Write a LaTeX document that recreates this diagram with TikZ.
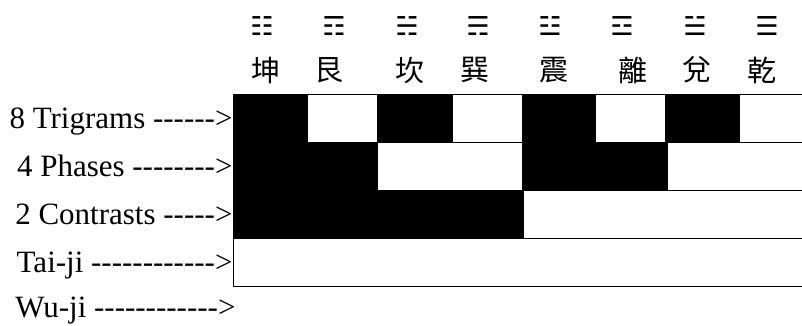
\documentclass[tikz,border=0pt]{standalone}
\usepackage{fontspec}
\setmainfont{Liberation Serif}[Ligatures=TeXOff]
\newfontfamily\cjk{Noto Sans CJK TC}
\newfontfamily\guafont{DejaVu Sans}

\begin{document}
\begin{tikzpicture}[x=1pt,y=-1pt,line width=1pt,
      yin/.style={draw=black,fill=black},
      yang/.style={draw=black,fill=white},
      rowlabel/.style={anchor=base east,inner sep=0pt,font=\fontsize{31}{36}\selectfont},
      gua/.style={inner sep=0pt,font=\guafont\fontsize{26}{26}\selectfont},
      guaname/.style={inner sep=0pt,font=\cjk\fontsize{29}{29}\selectfont}]
  \useasboundingbox (0,0) rectangle (802,325);
  \clip (0,0) rectangle (802,325);

  % trigrams and their names
  \node[gua] (kunsym) at (262,26) {☷};
  \node[gua] (gensym) at (334,26) {☶};
  \node[gua] (kansym) at (407,26) {☵};
  \node[gua] (xunsym) at (478,26) {☴};
  \node[gua] (zhensym) at (550,26) {☳};
  \node[gua] (lisym) at (622,26) {☲};
  \node[gua] (duisym) at (695,26) {☱};
  \node[gua] (qiansym) at (767,26) {☰};
  \node[guaname] (kun) at (266,70) {坤};
  \node[guaname] (gen) at (329,70) {艮};
  \node[guaname] (kan) at (410,70) {坎};
  \node[guaname] (xun) at (475,70) {巽};
  \node[guaname] (zhen) at (554,70) {震};
  \node[guaname] (li) at (633,70) {離};
  \node[guaname] (dui) at (697,70) {兌};
  \node[guaname] (qian) at (762,70) {乾};

  % 8 trigrams
  \draw[yin] (233,94) rectangle (307,142);
  \draw[yang] (307,94) rectangle (377,142);
  \draw[yin] (377,94) rectangle (452,142);
  \draw[yang] (452,94) rectangle (522,142);
  \draw[yin] (522,94) rectangle (595,142);
  \draw[yang] (595,94) rectangle (665,142);
  \draw[yin] (665,94) rectangle (739,142);
  \draw[yang] (739,94) rectangle (806,142);
  % 4 phases
  \draw[yin] (233,142) rectangle (377,190);
  \draw[yang] (377,142) rectangle (522,190);
  \draw[yin] (522,142) rectangle (667,190);
  \draw[yang] (667,142) rectangle (806,190);
  % 2 contrasts
  \draw[yin] (233,190) rectangle (523,238);
  \draw[yang] (523,190) rectangle (806,238);
  % tai-ji
  \draw[yang] (233,238) rectangle (806,286);

  % row labels
  \node[rowlabel] (trigrams) at (233,128) {8 Trigrams ------>};
  \node[rowlabel] (phases) at (233,176) {4 Phases -------->};
  \node[rowlabel] (contrasts) at (233,224) {2 Contrasts ----->};
  \node[rowlabel] (taiji) at (233,272) {Tai-ji ------------>};
  \node[rowlabel] (wuji) at (236,317) {Wu-ji ------------>};
\end{tikzpicture}
\end{document}
